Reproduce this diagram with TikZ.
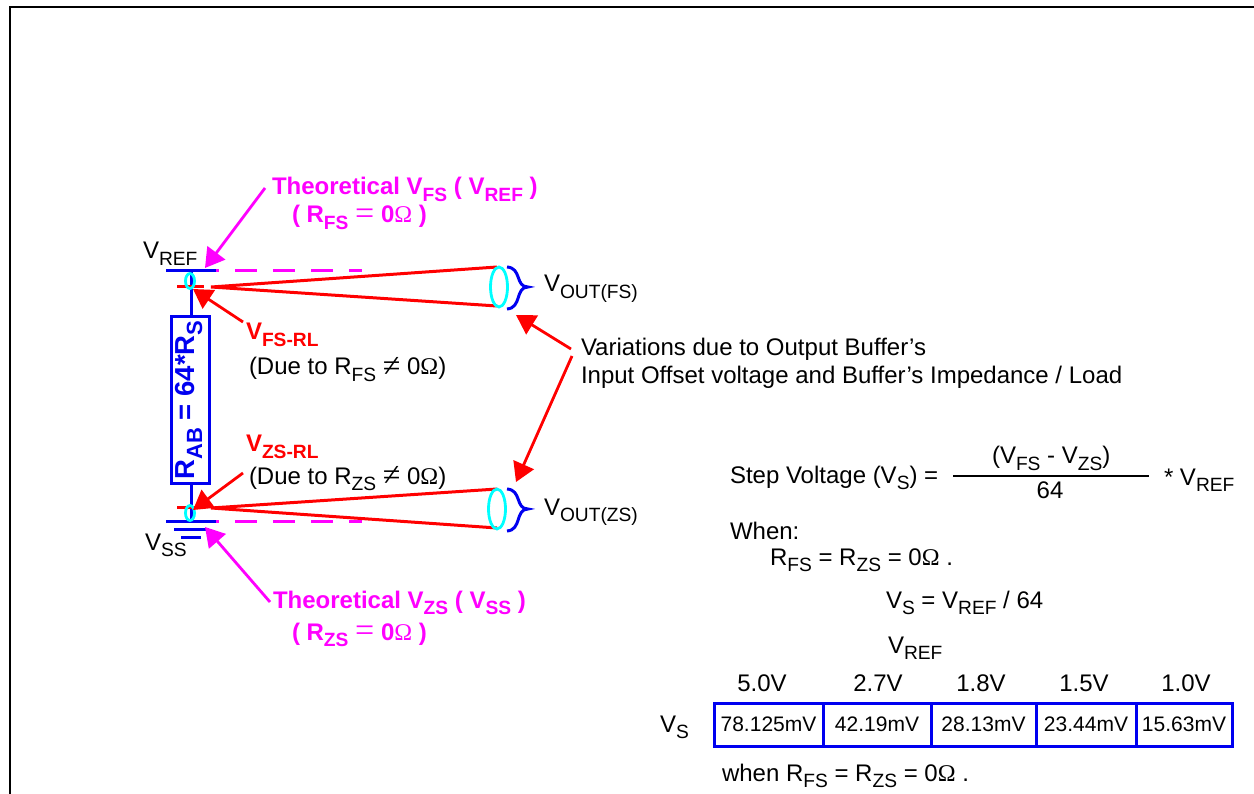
\documentclass[tikz,border=0pt]{standalone}
\usepackage{fontspec}
\setmainfont{Liberation Sans}
\newfontfamily\serifom{Liberation Serif}
\usetikzlibrary{arrows.meta,shapes.geometric}
\newcommand{\sbs}[1]{\raisebox{-0.26em}{\fontsize{0.8em}{1em}\selectfont #1}}
\newcommand{\Om}{{\serifom Ω}}
\newcommand{\Eq}{{\serifom\mdseries\fontsize{34pt}{34pt}\selectfont\raisebox{-1.5pt}{=}}}
\newcommand{\Ne}{{\serifom\fontsize{32pt}{32pt}\selectfont\raisebox{-1.5pt}{≠}}}
\tikzset{
  x=1pt,y=-1pt,
  txt/.style={anchor=base west,inner sep=0pt,outer sep=0pt,font=\fontsize{24pt}{28pt}\selectfont},
  mag/.style={txt,text=mg,font=\fontsize{24pt}{28pt}\selectfont\bfseries},
  redt/.style={txt,text=red,font=\fontsize{24pt}{28pt}\selectfont\bfseries},
  bl/.style={draw=bluec,line width=3pt},
  rd/.style={draw=red,line width=3pt},
  mgdash/.style={draw=mg,line width=3pt,dash pattern=on 22pt off 16pt,dash phase=19pt},
  cy/.style={draw=cyn,line width=2.8pt},
  redarr/.style={draw=red,line width=2.8pt,-{Triangle[length=19pt,width=22pt]}},
  magarr/.style={draw=mg,line width=2.8pt,-{Triangle[length=19pt,width=22pt]}},
  cellb/.style={draw=bluec,line width=3pt,minimum height=43pt,inner sep=0pt,anchor=center,font=\fontsize{21pt}{24pt}\selectfont},
  head/.style={anchor=base,inner sep=0pt,font=\fontsize{24pt}{28pt}\selectfont},
}
\definecolor{bluec}{RGB}{0,0,240}
\definecolor{mg}{RGB}{255,0,255}
\definecolor{cyn}{RGB}{0,255,255}
\begin{document}
\begin{tikzpicture}
\useasboundingbox (0,0) rectangle (1254,794);
% frame
\coordinate (fa) at (10,794); \coordinate (fb) at (10,7); \coordinate (fc) at (1254,7);
\draw[line width=2.6pt,line cap=rect] (fa) -- (fb) -- (fc);
% rails
\coordinate (r1) at (166,271); \coordinate (r2) at (216,271); \coordinate (r3) at (362,271);
\coordinate (g1) at (166,521); \coordinate (g2) at (216,521); \coordinate (g3) at (362,521);
\draw[mgdash] (r2) -- (r3);
\draw[mgdash] (g2) -- (g3);
\coordinate (rt) at (191,271); \coordinate (gb) at (191,521);
\node[bl,line width=3.4pt,minimum width=38pt,minimum height=167pt,inner sep=0pt,anchor=center] (rab) at (190.5,400) {};
\draw[bl] (rt) -- (rab.north -| rt);
\draw[bl] (rab.south -| gb) -- (gb);
\node[inner sep=0pt,rotate=90,text=bluec,font=\fontsize{27.5pt}{30pt}\selectfont\bfseries,anchor=center] (rabt) at (189,400) {R\sbs{AB} = 64*R\sbs{S}};
\draw[bl] (r1) -- (r2);
\draw[bl] (g1) -- (g2);
\coordinate (g4) at (174,529); \coordinate (g5) at (209,529);
\coordinate (g6) at (181,537); \coordinate (g7) at (201,537);
\draw[bl] (g4) -- (g5);
\draw[bl] (g6) -- (g7);
% red levels
\coordinate (l1) at (177,287); \coordinate (l2) at (204,287);
\coordinate (l3) at (177,507); \coordinate (l4) at (204,507);
\draw[rd] (l1) -- (l2);
\draw[rd] (l3) -- (l4);
% small ellipses
\node[cy,ellipse,minimum width=9pt,minimum height=15pt,inner sep=0pt] (e1) at (190,281) {};
\node[cy,ellipse,minimum width=9pt,minimum height=15pt,inner sep=0pt] (e2) at (190,513) {};
% wedges
\coordinate (w1) at (211,287); \coordinate (w1a) at (497,267); \coordinate (w1b) at (497,306);
\coordinate (w2) at (211,508); \coordinate (w2a) at (497,489); \coordinate (w2b) at (497,528);
\draw[rd] (w1a) -- (w1) -- (w1b);
\draw[rd] (w2a) -- (w2) -- (w2b);
\node[cy,ellipse,minimum width=17pt,minimum height=40pt,inner sep=0pt] (e3) at (499,287) {};
\node[cy,ellipse,minimum width=17pt,minimum height=40pt,inner sep=0pt] (e4) at (497,509) {};
% braces
\coordinate (b1) at (507,267); \coordinate (b1m) at (528,287); \coordinate (b1e) at (507,309);
\draw[bl] (b1) .. controls (522,268) and (515,287) .. (b1m) .. controls (515,287) and (522,308) .. (b1e);
\coordinate (b2) at (507,489); \coordinate (b2m) at (528,509); \coordinate (b2e) at (507,531);
\draw[bl] (b2) .. controls (522,490) and (515,509) .. (b2m) .. controls (515,509) and (522,530) .. (b2e);
% text left
\node[mag] (t1) at (272,195) {Theoretical V\sbs{FS} ( V\sbs{REF} )};
\node[mag] (t2) at (292,223) {( R\sbs{FS} \Eq{} 0{\serifom\mdseries Ω} )};
\node[txt] (vref) at (143,259) {V\sbs{REF}};
\node[redt] (vfsrl) at (246,340) {V\sbs{FS-RL}};
\node[txt] (due1) at (249,375) {(Due to R\sbs{FS} \Ne{} 0\Om)};
\node[redt] (vzsrl) at (246,452) {V\sbs{ZS-RL}};
\node[txt] (due2) at (249,484) {(Due to R\sbs{ZS} \Ne{} 0\Om)};
\node[txt] (vss) at (145,550) {V\sbs{SS}};
\node[mag] (t3) at (273,608) {Theoretical V\sbs{ZS} ( V\sbs{SS} )};
\node[mag] (t4) at (292,640) {( R\sbs{ZS} \Eq{} 0{\serifom\mdseries Ω} )};
\node[txt] (vo1) at (544,292) {V\sbs{OUT(FS)}};
\node[txt] (vo2) at (544,515) {V\sbs{OUT(ZS)}};
\node[txt] (var1) at (581,356) {Variations due to Output Buffer’s};
\node[txt] (var2) at (581,384) {Input Offset voltage and Buffer’s Impedance / Load};
% arrows
\coordinate (a1s) at (265,188); \coordinate (a1e) at (205,268);
\coordinate (a2s) at (270,602); \coordinate (a2e) at (205,527);
\coordinate (a3s) at (243,322); \coordinate (a3e) at (193,289);
\coordinate (a4s) at (243,473); \coordinate (a4e) at (193,510);
\coordinate (a5s) at (571,349); \coordinate (a5e) at (516,315);
\coordinate (a6s) at (572,356); \coordinate (a6e) at (516,482);
\draw[magarr] (a1s) -- (a1e);
\draw[magarr] (a2s) -- (a2e);
\draw[redarr] (a3s) -- (a3e);
\draw[redarr] (a4s) -- (a4e);
\draw[redarr] (a5s) -- (a5e);
\draw[redarr] (a6s) -- (a6e);
% formula
\node[txt] (step) at (730,483) {Step Voltage (V\sbs{S}) =};
\node[txt] (num) at (992,464) {(V\sbs{FS} - V\sbs{ZS})};
\coordinate (f1) at (953,476); \coordinate (f2) at (1149,476);
\draw[line width=2.6pt] (f1) -- (f2);
\node[head] (den) at (1050,498) {64};
\node[txt] (mul) at (1164,485) {* V\sbs{REF}};
\node[txt] (when) at (730,539) {When:};
\node[txt] (cond) at (770,565) {R\sbs{FS} = R\sbs{ZS} = 0\Om{} .};
\node[txt] (vs64) at (886,608) {V\sbs{S} = V\sbs{REF} / 64};
\node[txt] (vrefh) at (888,653) {V\sbs{REF}};
% table
\node[head] (h1) at (762,691) {5.0V};
\node[head] (h2) at (878,691) {2.7V};
\node[head] (h3) at (981,691) {1.8V};
\node[head] (h4) at (1084,691) {1.5V};
\node[head] (h5) at (1186,691) {1.0V};
\node[txt] (vst) at (660,732) {V\sbs{S}};
\node[cellb,minimum width=109pt] (c1) at (768.5,724.5) {78.125mV};
\node[cellb,minimum width=108pt] (c2) at (877,724.5) {42.19mV};
\node[cellb,minimum width=105pt] (c3) at (983.5,724.5) {28.13mV};
\node[cellb,minimum width=100pt] (c4) at (1086,724.5) {23.44mV};
\node[cellb,minimum width=96pt] (c5) at (1184,724.5) {15.63mV};
\node[txt] (wh2) at (722,781) {when R\sbs{FS} = R\sbs{ZS} = 0\Om{} .};
\end{tikzpicture}
\end{document}
